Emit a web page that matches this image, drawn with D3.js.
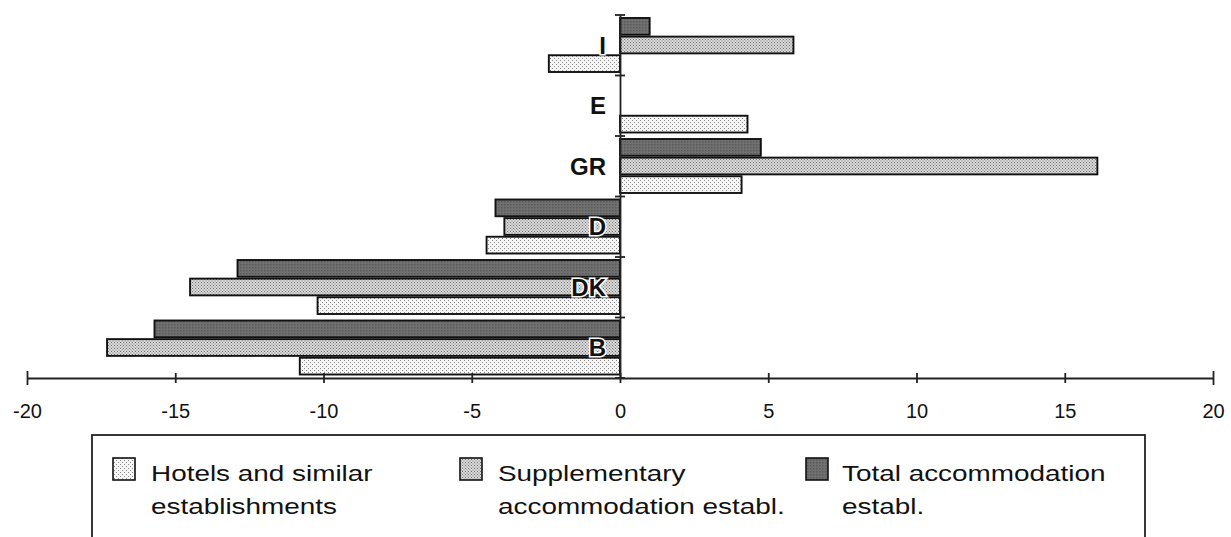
<!DOCTYPE html>
<html>
<head>
<meta charset="utf-8">
<script src="https://cdn.jsdelivr.net/npm/d3@7"></script>
<style>
  html, body { margin: 0; padding: 0; background: #ffffff; }
  svg { display: block; }
</style>
</head>
<body>
<svg id="chart" width="1231" height="537"></svg>
<script>
// ---- Data ----
const categories = ["I", "E", "GR", "D", "DK", "B"];
const seriesNames = ["Total accommodation establ.", "Supplementary accommodation establ.", "Hotels and similar establishments"];
const totalValues = [1.0, null, 4.75, -4.2, -12.9, -15.7];
const supplementaryValues = [5.85, null, 16.1, -3.9, -14.5, -17.3];
const hotelsValues = [-2.4, 4.3, 4.1, -4.5, -10.2, -10.8];
const xTicks = [-20, -15, -10, -5, 0, 5, 10, 15, 20];
const legendLines = [
  ["Hotels and similar", "establishments"],
  ["Supplementary", "accommodation establ."],
  ["Total accommodation", "establ."]
];

const seriesKeys = ["total", "supp", "hotels"];
const seriesValues = { total: totalValues, supp: supplementaryValues, hotels: hotelsValues };

const svg = d3.select("#chart");
const defs = svg.append("defs");

// patterns
function dotPattern(id, size, bg, dots, dotColor, r) {
  const p = defs.append("pattern").attr("id", id).attr("patternUnits", "userSpaceOnUse")
    .attr("width", size).attr("height", size);
  p.append("rect").attr("width", size).attr("height", size).attr("fill", bg);
  dots.forEach(d => p.append("rect").attr("x", d[0]).attr("y", d[1]).attr("width", r).attr("height", r).attr("fill", dotColor));
}
dotPattern("pHotels", 4, "#f6f6f6", [[0,0],[2,2]], "#8a8a8a", 1);
dotPattern("pSupp", 3, "#dadada", [[0,0],[1.5,1.5]], "#707070", 1);
dotPattern("pTotal", 3, "#707070", [[0,0]], "#5a5a5a", 1.5);
const fills = { total: "url(#pTotal)", supp: "url(#pSupp)", hotels: "url(#pHotels)" };

// scales
const x = d3.scaleLinear().domain([-20, 20]).range([27, 1213]);
const y = d3.scaleBand().domain(categories).range([15, 378]).paddingInner(0).paddingOuter(0);
const yInner = d3.scaleBand().domain(seriesKeys).range([3, 57]).paddingInner(0.1).paddingOuter(0);

// bars
const barsG = svg.append("g");
categories.forEach((c, i) => {
  seriesKeys.forEach(k => {
    const v = seriesValues[k][i];
    if (v === null || v === undefined) return;
    barsG.append("rect")
      .attr("x", Math.min(x(0), x(v)))
      .attr("y", y(c) + yInner(k))
      .attr("width", Math.abs(x(v) - x(0)))
      .attr("height", yInner.bandwidth())
      .attr("fill", fills[k])
      .attr("stroke", "#111")
      .attr("stroke-width", 1.9);
  });
});

// x axis
const axisY = 378;
const xAxis = d3.axisBottom(x).tickValues(xTicks).tickSize(0).tickFormat(d3.format("d"));
const gx = svg.append("g").attr("transform", `translate(0,${axisY})`).call(xAxis);
gx.select(".domain").attr("stroke", "#222").attr("stroke-width", 1.8);
gx.selectAll(".tick line").remove();
gx.selectAll(".tick").append("line")
  .attr("y1", d => (Math.abs(d) === 20 ? -7 : -5))
  .attr("y2", d => (Math.abs(d) === 20 ? 7 : 5))
  .attr("stroke", "#222").attr("stroke-width", 1.8);
gx.selectAll(".tick text")
  .attr("y", 40).attr("dy", 0)
  .attr("font-family", "Liberation Sans, Arial, sans-serif")
  .attr("font-size", 20).attr("fill", "#111")
  .text(d => (d < 0 ? "-" + Math.abs(d) : String(d)));

// y axis (vertical line at zero)
const yAxis = d3.axisLeft(y).tickSize(0).tickFormat("");
const gy = svg.append("g").attr("transform", `translate(${x(0)},0)`).call(yAxis);
gy.select(".domain").attr("stroke", "#222").attr("stroke-width", 1.8);
gy.selectAll(".tick").remove();
const bounds = categories.map(c => y(c)).concat([y.range()[1]]);
gy.selectAll("line.bt").data(bounds).join("line").attr("class", "bt")
  .attr("x1", -5).attr("x2", 5).attr("y1", d => d).attr("y2", d => d)
  .attr("stroke", "#222").attr("stroke-width", 1.8);

// category labels
svg.append("g").selectAll("text").data(categories).join("text")
  .attr("x", 606)
  .attr("y", d => y(d) + y.bandwidth() / 2)
  .attr("dy", "0.36em")
  .attr("text-anchor", "end")
  .attr("font-family", "Liberation Sans, Arial, sans-serif")
  .attr("font-weight", "bold")
  .attr("font-size", 24)
  .attr("fill", "#111")
  .attr("stroke", "#fff").attr("stroke-width", 3).attr("paint-order", "stroke")
  .text(d => d);

// legend
const lg = svg.append("g");
lg.append("rect").attr("x", 92).attr("y", 435).attr("width", 1053).attr("height", 140)
  .attr("fill", "none").attr("stroke", "#222").attr("stroke-width", 1.8);
const legendKeys = ["hotels", "supp", "total"];
const swatchX = [113, 460, 806];
const textX = [151, 498, 842];
legendKeys.forEach((k, i) => {
  lg.append("rect").attr("x", swatchX[i]).attr("y", 458).attr("width", 22).attr("height", 22)
    .attr("fill", fills[k]).attr("stroke", "#111").attr("stroke-width", 1.6);
  legendLines[i].forEach((line, j) => {
    lg.append("text")
      .attr("transform", `translate(${textX[i]},${481 + j * 33}) scale(1.24,1)`)
      .attr("font-family", "Liberation Sans, Arial, sans-serif")
      .attr("font-size", 22.5).attr("fill", "#111")
      .text(line);
  });
});
</script>
</body>
</html>
